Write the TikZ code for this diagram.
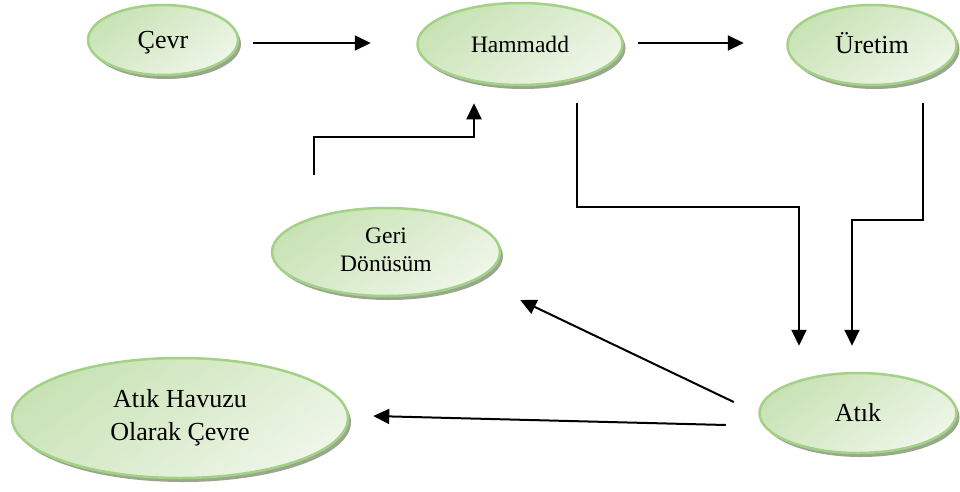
\documentclass[tikz,border=0pt]{standalone}
\usepackage{fontspec}
\usepackage{graphicx}
\setmainfont{Liberation Serif}
\usetikzlibrary{shapes.geometric,arrows.meta,shadows,calc}
\definecolor{bord}{HTML}{A3D185}
\definecolor{fillA}{HTML}{C8E2B4}
\definecolor{fillB}{HTML}{EEF6E8}
\definecolor{shad}{HTML}{98A78D}
\newcommand{\bigtxt}{\fontsize{26pt}{33pt}\selectfont}
\begin{document}
\begin{tikzpicture}[x=1pt,y=-1pt,
  bub/.style={ellipse, draw=bord, line width=2.5pt, inner sep=0pt,
    top color=fillA, bottom color=fillB, shading angle=35,
    drop shadow={shadow xshift=3pt, shadow yshift=-4pt, fill=shad, opacity=1},
    align=center, font=\bigtxt},
  oneline/.style={text height=17pt, text depth=0pt},
  arr/.style={line width=2pt, -{Triangle[length=16pt,width=15pt]}}]
\useasboundingbox (0,0) rectangle (960,491);
\node[bub, oneline, minimum width=150pt, minimum height=70pt] (cevr) at (163,40) {Çevr};
\node[bub, oneline, minimum width=205pt, minimum height=82pt] (ham) at (520,44) {\scalebox{0.905}{Hammadd}};
\node[bub, oneline, minimum width=169pt, minimum height=80pt] (uret) at (872,45) {Üretim};
\node[bub, minimum width=228pt, minimum height=88pt] (geri) at (386,252)
  {\scalebox{0.905}{\renewcommand{\arraystretch}{0.94}\begin{tabular}{@{}c@{}}Geri\\Dönüsüm\end{tabular}}};
\node[bub, minimum width=336pt, minimum height=120pt] (hav) at (180,418) {Atık Havuzu\\Olarak Çevre};
\node[bub, oneline, minimum width=197pt, minimum height=80pt] (atik) at (858,413) {Atık};

\draw[arr] ($(cevr.east)+(14,3)$) -- ($(ham.west)+(-45.5,-1)$);
\draw[arr] ($(ham.east)+(14.5,-1)$) -- ($(uret.west)+(-42.5,-2)$);
\draw[arr] ($(geri.north)+(-72,-32)$) -- ++(0,-38) -| ($(ham.south)+(-46,17)$);
\draw[arr] ($(ham.south)+(57,17)$) -- ++(0,104) -| ($(atik.north)+(-59,-26)$);
\draw[arr] ($(uret.south)+(51,17)$) -- ++(0,117) -| ($(atik.north)+(-6,-26)$);
\draw[arr] ($(atik.west)+(-24.5,-11)$) -- ($(geri.east)+(19,48)$);
\draw[arr] ($(atik.west)+(-32.5,12)$) -- ($(hav.east)+(24,-2)$);
\end{tikzpicture}
\end{document}
